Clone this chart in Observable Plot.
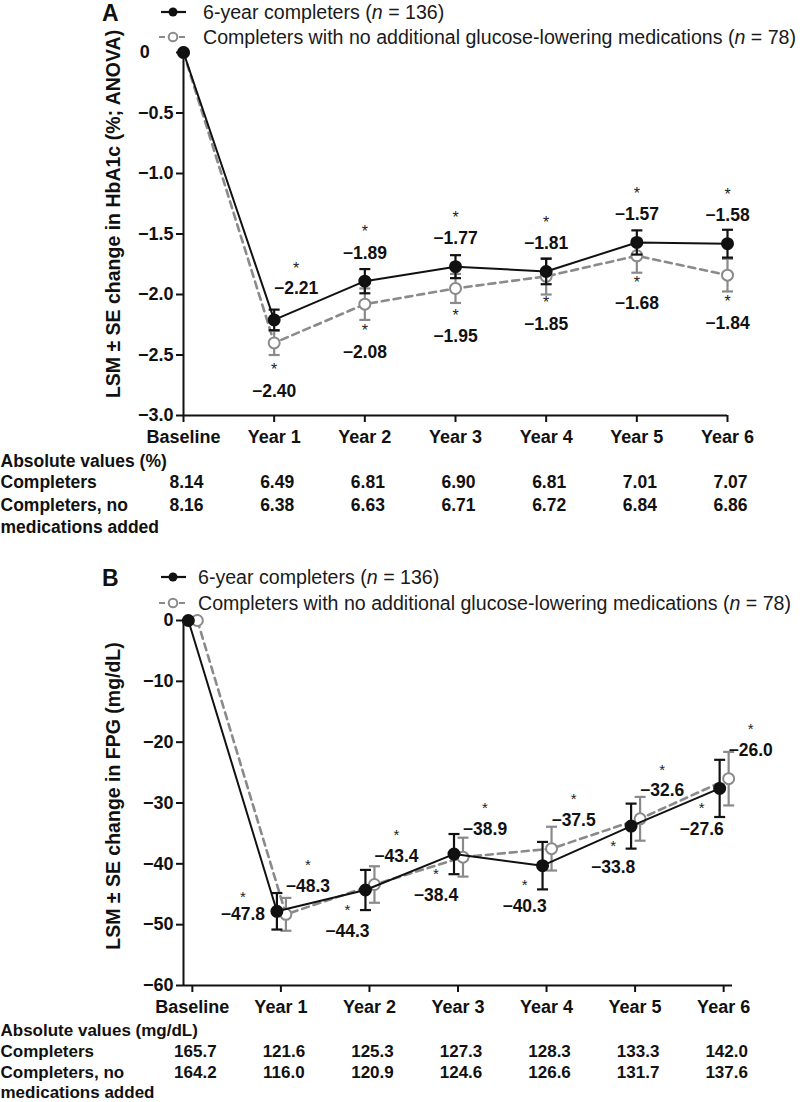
<!DOCTYPE html>
<html><head><meta charset="utf-8">
<script src="https://cdn.jsdelivr.net/npm/d3@7"></script>
<script src="https://cdn.jsdelivr.net/npm/@observablehq/plot@0.6"></script>
<style>
body{margin:0;background:#fff;font-family:"Liberation Sans",Arial,sans-serif;color:#111;}
#wrap{position:relative;width:800px;height:1102px;overflow:hidden;}
.panel{position:absolute;left:0;width:800px;}
.leg{position:absolute;height:24px;line-height:24px;font-size:19.6px;white-space:nowrap;color:#1a1a1a;}
.sw{position:absolute;}
.letter{position:absolute;font-size:23px;font-weight:bold;line-height:24px;}
</style></head><body><div id="wrap"></div>
<script>
// ---------- data ----------
const timepoints = ["Baseline","Year 1","Year 2","Year 3","Year 4","Year 5","Year 6"];

const hba1cCompleters   = [0, -2.21, -1.89, -1.77, -1.81, -1.57, -1.58];
const hba1cCompletersSE = [0, 0.085, 0.10, 0.095, 0.105, 0.10, 0.115];
const hba1cNoMeds       = [0, -2.40, -2.08, -1.95, -1.85, -1.68, -1.84];
const hba1cNoMedsSE     = [0, 0.10, 0.13, 0.12, 0.15, 0.14, 0.135];
const hba1cAbsCompleters = [8.14, 6.49, 6.81, 6.90, 6.81, 7.01, 7.07];
const hba1cAbsNoMeds     = [8.16, 6.38, 6.63, 6.71, 6.72, 6.84, 6.86];
const hba1cTicks = [0, -0.5, -1.0, -1.5, -2.0, -2.5, -3.0];

const fpgCompleters   = [0, -47.8, -44.3, -38.4, -40.3, -33.8, -27.6];
const fpgCompletersSE = [0, 3.0, 3.3, 3.3, 3.9, 3.7, 4.7];
const fpgNoMeds       = [0, -48.3, -43.4, -38.9, -37.5, -32.6, -26.0];
const fpgNoMedsSE     = [0, 2.7, 3.0, 3.2, 3.6, 3.6, 4.4];
const fpgAbsCompleters = [165.7, 121.6, 125.3, 127.3, 128.3, 133.3, 142.0];
const fpgAbsNoMeds     = [164.2, 116.0, 120.9, 124.6, 126.6, 131.7, 137.6];
const fpgTicks = [0, -10, -20, -30, -40, -50, -60];

const legendLabels = ["6-year completers (", "Completers with no additional glucose-lowering medications ("];
const legendN = [136, 78];

// ---------- helpers ----------
const BLACK = "#111", GREY = "#8a8a8a";
const FONT = '"Liberation Sans", Arial, sans-serif';
const rows = (vals, ses) => vals.map((v, i) => ({i, v, se: ses[i]}));
const capSymbol = {draw(ctx, size){ const r = Math.sqrt(size / Math.PI); ctx.moveTo(-r, 0); ctx.lineTo(r, 0); }};
const capRows = d => d.filter(r => r.se > 0).flatMap(r => [{i: r.i, y: r.v - r.se}, {i: r.i, y: r.v + r.se}]);

function seriesMarks(data, color, opts) {
  const withSE = data.filter(d => d.se > 0);
  const dx = opts.dx || 0;
  return [
    Plot.ruleX(withSE, {x: "i", y1: d => d.v - d.se, y2: d => d.v + d.se, stroke: color, strokeWidth: 2.2, dx}),
    Plot.dot(capRows(data), {x: "i", y: "y", symbol: capSymbol, r: 5.5, stroke: color, strokeWidth: 2.2, fill: "none", dx}),
    Plot.line(data, {x: "i", y: "v", stroke: color, strokeWidth: opts.dashed ? 2.6 : 2, strokeDasharray: opts.dashed ? "7,5" : null, dx}),
    Plot.dot(data, {x: "i", y: "v", r: 5.5, stroke: color, strokeWidth: 2, fill: opts.open ? "white" : color, dx})
  ];
}

function tableMarks(title, absA, absB, fmt, off, fs) {
  const base = {fontWeight: "bold", fontSize: fs, fill: "#111"};
  const left = {...base, frameAnchor: "bottom-left", dx: -183, textAnchor: "start"};
  return [
    Plot.text([title], {...left, dy: off[0]}),
    Plot.text(["Completers"], {...left, dy: off[1]}),
    Plot.text(["Completers, no"], {...left, dy: off[2]}),
    Plot.text(["medications added"], {...left, dy: off[3]}),
    Plot.text(absA.map((v, i) => ({i, v})), {...base, x: "i", text: d => fmt(d.v), frameAnchor: "bottom", dy: off[1], dx: 3}),
    Plot.text(absB.map((v, i) => ({i, v})), {...base, x: "i", text: d => fmt(d.v), frameAnchor: "bottom", dy: off[2], dx: 3})
  ];
}

function addLegend(panel, textLeft, rowY, letter) {
  const l = document.createElement("div");
  l.className = "letter"; l.textContent = letter;
  l.style.left = "102px"; l.style.top = (rowY[0] - 11) + "px";
  panel.appendChild(l);
  legendLabels.forEach((lab, k) => {
    const sw = document.createElementNS("http://www.w3.org/2000/svg", "svg");
    sw.setAttribute("width", 30); sw.setAttribute("height", 14); sw.setAttribute("class", "sw");
    sw.style.left = "158px"; sw.style.top = (rowY[k] - 7) + "px";
    if (k === 0) {
      sw.innerHTML = `<line x1="3" y1="7" x2="28" y2="7" stroke="${BLACK}" stroke-width="2.2"/><circle cx="15" cy="7" r="4.5" fill="${BLACK}"/>`;
    } else {
      sw.innerHTML = `<line x1="1" y1="7" x2="29" y2="7" stroke="${GREY}" stroke-width="2.2" stroke-dasharray="6,4"/><circle cx="15" cy="7" r="4.3" fill="white" stroke="${GREY}" stroke-width="2"/>`;
    }
    panel.appendChild(sw);
    const t = document.createElement("div");
    t.className = "leg";
    t.style.left = textLeft + "px"; t.style.top = (rowY[k] - 12) + "px";
    t.innerHTML = lab + "<i>n</i> = " + legendN[k] + ")";
    panel.appendChild(t);
  });
}

const wrap = document.getElementById("wrap");

// ---------- Panel A ----------
{
  const c = rows(hba1cCompleters, hba1cCompletersSE);
  const n = rows(hba1cNoMeds, hba1cNoMedsSE);
  const lab = {fontWeight: "bold", fontSize: 17.5, fill: "#111"};
  const star = {fontSize: 16, fill: "#222", text: () => "*"};
  const fmt = d => d === 0 ? "0\u2007\u2007\u2009" : "\u2212" + Math.abs(d).toFixed(1);
  const chart = Plot.plot({
    width: 800, height: 540,
    marginTop: 52, marginBottom: 125, marginLeft: 183, marginRight: 73,
    style: {fontFamily: FONT, fontSize: "18px", color: "#111", background: "transparent", overflow: "visible"},
    x: {domain: [0, 6]},
    y: {domain: [-3, 0]},
    marks: [
      Plot.axisY({ticks: hba1cTicks, tickFormat: fmt, tickSize: 7, tickPadding: 3, strokeWidth: 2, fontWeight: "bold", fontSize: 18, label: null}),
      Plot.axisX({ticks: d3.range(7), tickFormat: i => timepoints[i], tickSize: 7, tickPadding: 8, strokeWidth: 2, fontWeight: "bold", fontSize: 18, label: null}),
      Plot.ruleY([-3], {stroke: BLACK, strokeWidth: 2}),
      Plot.ruleX([0], {stroke: BLACK, strokeWidth: 2}),
      Plot.text(["LSM \u00b1 SE change in HbA1c (%; ANOVA)"], {frameAnchor: "left", textAnchor: "middle", dx: -70, dy: -20, rotate: -90, fontWeight: "bold", fontSize: 19.5, fill: "#111"}),
      ...seriesMarks(n, GREY, {dashed: true, open: true}),
      ...seriesMarks(c, BLACK, {}),
      // labels: completers above, no-med below
      Plot.text(c.slice(2), {...lab, x: "i", y: "v", text: d => "\u2212" + Math.abs(d.v).toFixed(2), dy: -28}),
      Plot.text(c.slice(2), {...star, x: "i", y: "v", dy: -49}),
      Plot.text(c.slice(1, 2), {...lab, x: "i", y: "v", text: d => "\u2212" + Math.abs(d.v).toFixed(2), dy: -32, dx: 22}),
      Plot.text(c.slice(1, 2), {...star, x: "i", y: "v", dy: -51, dx: 22}),
      Plot.text(n.slice(1), {...lab, x: "i", y: "v", text: d => "\u2212" + Math.abs(d.v).toFixed(2), dy: 48}),
      Plot.text(n.slice(1), {...star, x: "i", y: "v", dy: 27}),
      ...tableMarks("Absolute values (%)", hba1cAbsCompleters, hba1cAbsNoMeds, v => v.toFixed(2), [51, 72, 95, 117], 17.5)
    ]
  });
  const p = document.createElement("div");
  p.className = "panel"; p.style.top = "0px"; p.style.height = "540px";
  p.appendChild(chart);
  addLegend(p, 203, [12, 37], "A");
  wrap.appendChild(p);
}

// ---------- Panel B ----------
{
  const c = rows(fpgCompleters, fpgCompletersSE);
  const n = rows(fpgNoMeds, fpgNoMedsSE);
  const lab = {fontWeight: "bold", fontSize: 17.5, fill: "#111"};
  const star = {fontSize: 15, fill: "#222", text: () => "*"};
  const fmt = d => d === 0 ? "0" : "\u2212" + Math.abs(d);
  const chart = Plot.plot({
    width: 800, height: 552,
    marginTop: 70, marginBottom: 117, marginLeft: 183, marginRight: 68,
    style: {fontFamily: FONT, fontSize: "18px", color: "#111", background: "transparent", overflow: "visible"},
    x: {domain: [-0.1, 6.1]},
    y: {domain: [-60, 0]},
    marks: [
      Plot.axisY({ticks: fpgTicks, tickFormat: fmt, tickSize: 7, tickPadding: 3, strokeWidth: 2, fontWeight: "bold", fontSize: 18, label: null}),
      Plot.axisX({ticks: d3.range(7), tickFormat: i => timepoints[i], tickSize: 7, tickPadding: 8, strokeWidth: 2, fontWeight: "bold", fontSize: 18, label: null}),
      Plot.ruleY([-60], {stroke: BLACK, strokeWidth: 2}),
      Plot.ruleX([-0.1], {stroke: BLACK, strokeWidth: 2}),
      Plot.text(["LSM \u00b1 SE change in FPG (mg/dL)"], {frameAnchor: "left", textAnchor: "middle", dx: -70, dy: -7, rotate: -90, fontWeight: "bold", fontSize: 19.5, fill: "#111"}),
      ...seriesMarks(n, GREY, {dashed: true, open: true, dx: 5}),
      ...seriesMarks(c, BLACK, {dx: -4}),
      // completers labels below-left, no-med labels above-right
      Plot.text(c.slice(2), {...lab, x: "i", y: "v", text: d => "\u2212" + Math.abs(d.v).toFixed(1), dy: 41, dx: -22}),
      Plot.text(c.slice(2), {...star, x: "i", y: "v", dy: 20, dx: -22}),
      Plot.text(c.slice(1, 2), {...lab, x: "i", y: "v", text: d => "\u2212" + Math.abs(d.v).toFixed(1), dy: 3, dx: -38}),
      Plot.text(c.slice(1, 2), {...star, x: "i", y: "v", dy: -14, dx: -38}),
      Plot.text(n.slice(1), {...lab, x: "i", y: "v", text: d => "\u2212" + Math.abs(d.v).toFixed(1), dy: -28, dx: 27}),
      Plot.text(n.slice(1), {...star, x: "i", y: "v", dy: -49, dx: 27}),
      ...tableMarks("Absolute values (mg/dL)", fpgAbsCompleters, fpgAbsNoMeds, v => v.toFixed(1), [50, 71, 92, 112], 17)
    ]
  });
  const p = document.createElement("div");
  p.className = "panel"; p.style.top = "550px"; p.style.height = "552px";
  p.appendChild(chart);
  addLegend(p, 198, [27, 53], "B");
  wrap.appendChild(p);
}
</script>
</body></html>
